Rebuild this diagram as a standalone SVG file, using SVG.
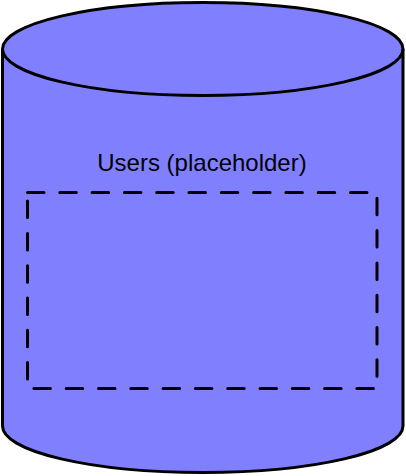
<svg xmlns="http://www.w3.org/2000/svg" width="406" height="476" viewBox="0 0 406 476">
  <style>
    .shape { fill: #8080ff; stroke: #000000; stroke-width: 3; }
    .rim { fill: none; stroke: #000000; stroke-width: 3; }
    .placeholder { fill: none; stroke: #000000; stroke-width: 3; stroke-dasharray: 16.5 15.8; stroke-linecap: round; }
    .label { font-family: "Liberation Sans", Arial, Helvetica, sans-serif; font-size: 24px; fill: #000000; text-anchor: middle; }
  </style>
  <rect width="406" height="476" fill="#ffffff"/>
  <g id="users-db">
    <path class="shape" d="M 2.5 49 A 200.25 46.5 0 0 1 403 49 L 403 426 A 200.25 46.5 0 0 1 2.5 426 Z"/>
    <path class="rim" d="M 2.5 49 A 200.25 46.5 0 0 0 403 49"/>
    <text class="label" x="202" y="171">Users (placeholder)</text>
  </g>
  <g id="placeholder-box">
    <rect class="placeholder" x="27.5" y="192.5" width="349.5" height="196"/>
  </g>
  <g id="connectors"></g>
</svg>
